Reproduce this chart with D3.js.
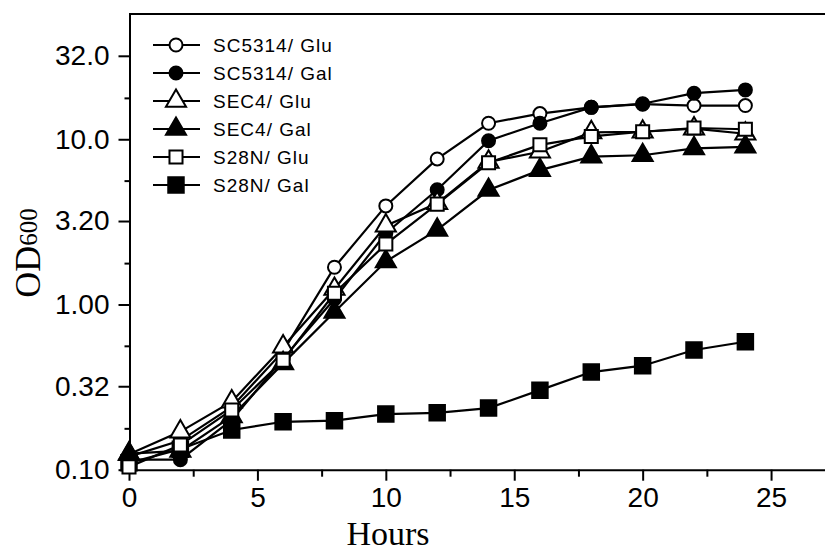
<!DOCTYPE html>
<html>
<head>
<meta charset="utf-8">
<script src="https://cdnjs.cloudflare.com/ajax/libs/d3/7.8.5/d3.min.js"></script>
<style>
  body { margin: 0; background: #fff; }
  .axis text { font-family: "Liberation Sans", Arial, sans-serif; font-size: 28px; fill: #000; }
  .axis path, .axis line { stroke: #000; stroke-width: 2; }
  .legend text { font-family: "Liberation Sans", Arial, sans-serif; font-size: 19px; letter-spacing: 1px; }
</style>
</head>
<body>
<script>

// growth curves, OD600
var hours = [0, 2, 4, 6, 8, 10, 12, 14, 16, 18, 20, 22, 24];

var sc5314Glu = [0.12, 0.15, 0.24, 0.52, 1.68, 3.95, 7.6, 12.5, 14.3, 15.6, 16.3, 16.0, 16.0];
var sc5314Gal = [0.115, 0.115, 0.20, 0.47, 1.08, 2.7, 4.95, 9.8, 12.5, 15.6, 16.4, 19.0, 19.9];
var sec4Glu   = [0.124, 0.17, 0.258, 0.555, 1.24, 3.0, 4.1, 7.3, 8.4, 11.0, 11.1, 11.6, 10.8];
var sec4Gal   = [0.125, 0.13, 0.21, 0.44, 0.90, 1.82, 2.83, 4.93, 6.5, 7.85, 8.0, 8.8, 9.0];
var s28nGlu   = [0.104, 0.141, 0.23, 0.46, 1.17, 2.32, 4.05, 7.2, 9.25, 10.4, 11.1, 11.7, 11.5];
var s28nGal   = [0.11, 0.133, 0.174, 0.195, 0.198, 0.217, 0.221, 0.236, 0.303, 0.39, 0.426, 0.53, 0.595];

var seriesNames = ["SC5314/ Glu", "SC5314/ Gal", "SEC4/ Glu", "SEC4/ Gal", "S28N/ Glu", "S28N/ Gal"];
var seriesValues = [sc5314Glu, sc5314Gal, sec4Glu, sec4Gal, s28nGlu, s28nGal];
var seriesMarker = ["circle", "circle", "triangle", "triangle", "square", "square"];
var seriesFilled = [false, true, false, true, false, true];
// S28N/Gal sits underneath the others where they overlap
var drawOrder = [5, 0, 1, 2, 3, 4];

var yTicks = [0.1, 0.32, 1, 3.2, 10, 32];
var yTickLabels = ["0.10", "0.32", "1.00", "3.20", "10.0", "32.0"];
var yMinorTicks = [0.178, 0.562, 1.78, 5.62, 17.8];
var xTicks = [0, 5, 10, 15, 20, 25];
var xMinorTicks = [2.5, 7.5, 12.5, 17.5, 22.5];

var width = 825;
var height = 553;

var svg = d3.select("body").append("svg")
    .attr("width", width)
    .attr("height", height);

var x = d3.scaleLinear().domain([0, 27.1]).range([129, 825]);
var y = d3.scaleLog().domain([0.1, 57.3]).range([469.7, 14]);

// axes
svg.append("g")
    .attr("class", "axis")
    .attr("transform", "translate(0,469.7)")
    .call(d3.axisBottom(x).tickValues(xTicks).tickSize(11).tickSizeOuter(0).tickPadding(6)
      .tickFormat(function(d) { return d; }));

svg.append("g")
    .attr("class", "axis")
    .attr("transform", "translate(0,469.7)")
    .call(d3.axisBottom(x).tickValues(xMinorTicks).tickSize(7).tickSizeOuter(0).tickFormat(""))
    .select(".domain").remove();

svg.append("g")
    .attr("class", "axis")
    .attr("transform", "translate(129.5,0)")
    .call(d3.axisLeft(y).tickValues(yTicks).tickSize(11).tickSizeOuter(0).tickPadding(9)
      .tickFormat(function(d, i) { return yTickLabels[i]; }));

svg.append("g")
    .attr("class", "axis")
    .attr("transform", "translate(129.5,0)")
    .call(d3.axisLeft(y).tickValues(yMinorTicks).tickSize(5).tickSizeOuter(0).tickFormat(""))
    .select(".domain").remove();

// top frame line
svg.append("line")
    .attr("x1", x.range()[0]).attr("x2", x.range()[1])
    .attr("y1", y.range()[1]).attr("y2", y.range()[1])
    .attr("stroke", "#000").attr("stroke-width", 2);

// axis titles
svg.append("text")
    .attr("x", 388).attr("y", 545)
    .attr("text-anchor", "middle")
    .style("font-family", "'Liberation Serif', 'Times New Roman', serif")
    .style("font-size", "34px")
    .text("Hours");

var ylab = svg.append("text")
    .attr("transform", "translate(40,253) rotate(-90)")
    .attr("text-anchor", "middle")
    .style("font-family", "'Liberation Serif', 'Times New Roman', serif")
    .style("font-size", "36px");
ylab.append("tspan").text("OD");
ylab.append("tspan").attr("dy", -3).style("font-size", "25px").text("600");

function markerPath(type, filled) {
  if (type == "circle") return null;
  if (type == "triangle") return d3.symbol().type(d3.symbolTriangle).size(175)();
  return d3.symbol().type(d3.symbolSquare).size(filled ? 240 : 170)();
}

function drawMarker(g, type, filled) {
  var m;
  if (type == "circle") {
    m = g.append("circle").attr("r", 6.5);
  } else {
    m = g.append("path").attr("d", markerPath(type, filled));
  }
  m.attr("fill", filled ? "#000" : "#fff")
    .attr("stroke", "#000")
    .attr("stroke-width", 2);
}

var line = d3.line()
    .x(function(d) { return x(d[0]); })
    .y(function(d) { return y(d[1]); });

var plot = svg.append("g").attr("class", "series");

drawOrder.forEach(function(i) {
  var vals = seriesValues[i];
  var pts = hours.map(function(h, j) { return [h, vals[j]]; });
  var g = plot.append("g");
  g.append("path")
      .attr("d", line(pts))
      .attr("fill", "none")
      .attr("stroke", "#000")
      .attr("stroke-width", 2.2);
  g.selectAll("g.pt")
      .data(pts)
      .enter().append("g").attr("class", "pt")
      .attr("transform", function(d) { return "translate(" + x(d[0]) + "," + y(d[1]) + ")"; })
      .each(function() { drawMarker(d3.select(this), seriesMarker[i], seriesFilled[i]); });
});

// legend
var legend = svg.append("g").attr("class", "legend");
seriesNames.forEach(function(name, i) {
  var row = legend.append("g").attr("transform", "translate(0," + (45 + i * 28) + ")");
  row.append("line")
      .attr("x1", 153).attr("x2", 200)
      .attr("stroke", "#000").attr("stroke-width", 2.2);
  var mk = row.append("g").attr("transform", "translate(176,0)");
  drawMarker(mk, seriesMarker[i], seriesFilled[i]);
  row.append("text")
      .attr("x", 213).attr("dy", "0.36em")
      .text(name);
});

</script>
</body>
</html>
